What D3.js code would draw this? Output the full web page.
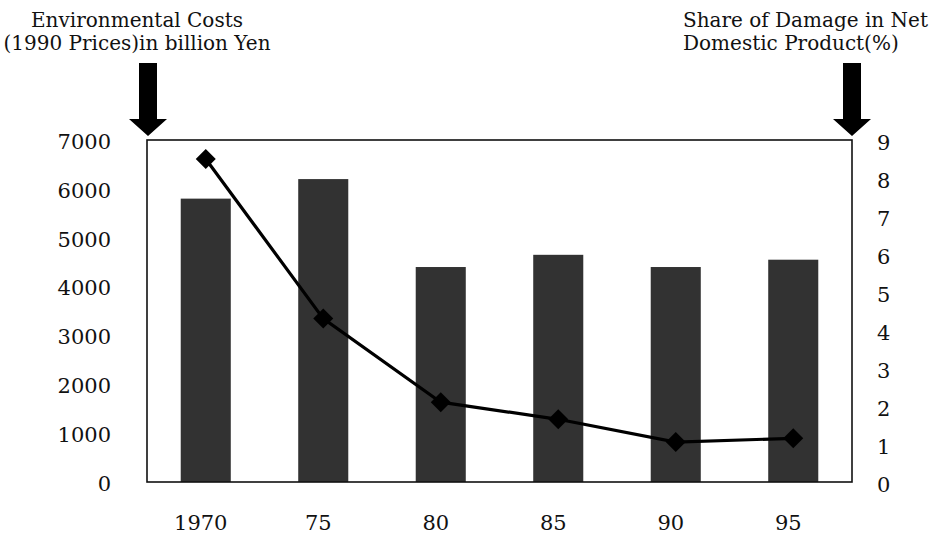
<!DOCTYPE html>
<html>
<head>
<meta charset="utf-8">
<script src="https://cdn.jsdelivr.net/npm/d3@7"></script>
<style>
  html, body { margin: 0; padding: 0; background: #fff; }
  svg text { font-family: "DejaVu Serif", "Liberation Serif", serif; fill: #111; }
</style>
</head>
<body>
<svg id="chart" width="932" height="538"></svg>
<script>
// Survey years, environmental costs (billion yen, 1990 prices) and damage share of NDP (%)
const years = ["1970", "75", "80", "85", "90", "95"];
const envCosts = [5800, 6200, 4400, 4650, 4400, 4550];
const damageShare = [8.5, 4.3, 2.1, 1.65, 1.05, 1.15];
const leftTicks = [0, 1000, 2000, 3000, 4000, 5000, 6000, 7000];
const rightTicks = [0, 1, 2, 3, 4, 5, 6, 7, 8, 9];
const leftTitle = ["Environmental Costs", "(1990 Prices)in billion Yen"];
const rightTitle = ["Share of Damage in Net", "Domestic Product(%)"];

const svg = d3.select("#chart");
const plot = { left: 147, right: 852, top: 140, bottom: 482 };

const x = d3.scaleBand().domain(years).range([plot.left, plot.right]).paddingInner(0.574).paddingOuter(0.287);
const yLeft = d3.scaleLinear().domain([0, 7000]).range([plot.bottom, plot.top]);
const yRight = d3.scaleLinear().domain([0, 9]).range([plot.bottom, plot.top]);

// bars
svg.append("g").selectAll("rect").data(years).join("rect")
  .attr("x", d => x(d))
  .attr("width", x.bandwidth())
  .attr("y", (d, i) => yLeft(envCosts[i]))
  .attr("height", (d, i) => yLeft(0) - yLeft(envCosts[i]))
  .attr("fill", "#323232");

// plot frame
svg.append("rect")
  .attr("x", plot.left).attr("y", plot.top)
  .attr("width", plot.right - plot.left).attr("height", plot.bottom - plot.top)
  .attr("fill", "none").attr("stroke", "#111").attr("stroke-width", 1.6);

// left axis labels
const axL = svg.append("g").attr("transform", `translate(${plot.left},0)`)
  .call(d3.axisLeft(yLeft).tickValues(leftTicks).tickSize(0).tickPadding(36).tickFormat(d3.format("d")));
axL.select(".domain").remove();
axL.selectAll("text").style("font-size", "21px").attr("dy", "0.4em");

// right axis labels
const axR = svg.append("g").attr("transform", `translate(${plot.right},0)`)
  .call(d3.axisRight(yRight).tickValues(rightTicks).tickSize(0).tickPadding(25));
axR.select(".domain").remove();
axR.selectAll("text").style("font-size", "21px").attr("dy", "0.45em");

// category labels
const axB = svg.append("g").attr("transform", `translate(0,${plot.bottom})`)
  .call(d3.axisBottom(x).tickSize(0).tickPadding(33));
axB.select(".domain").remove();
axB.selectAll("text").style("font-size", "21px").attr("dx", "-5");

// damage share line with diamond markers
const cx = d => x(d) + x.bandwidth() / 2;
const line = d3.line().x(d => cx(d)).y((d, i) => yRight(damageShare[i]));
svg.append("path").datum(years)
  .attr("d", line)
  .attr("fill", "none").attr("stroke", "#000").attr("stroke-width", 3.2);
svg.append("g").selectAll("path").data(years).join("path")
  .attr("d", d3.symbol().type(d3.symbolSquare).size(200))
  .attr("transform", (d, i) => `translate(${cx(d)},${yRight(damageShare[i])}) rotate(45)`)
  .attr("fill", "#000");

// axis titles
function title(lines, xPos, anchor) {
  const t = svg.append("text").attr("text-anchor", anchor).style("font-size", "20px");
  lines.forEach((s, i) => t.append("tspan").attr("x", xPos).attr("y", 27 + i * 23).text(s));
}
title(leftTitle, 137, "middle");
title(rightTitle, 683, "start");

// arrows pointing down to each axis
function arrow(xc) {
  const p = d3.path();
  p.moveTo(xc - 9, 63);
  p.lineTo(xc + 9, 63);
  p.lineTo(xc + 9, 119);
  p.lineTo(xc + 19, 119);
  p.lineTo(xc, 136);
  p.lineTo(xc - 19, 119);
  p.lineTo(xc - 9, 119);
  p.closePath();
  svg.append("path").attr("d", p.toString()).attr("fill", "#000");
}
arrow(plot.left + 1);
arrow(plot.right);
</script>
</body>
</html>
